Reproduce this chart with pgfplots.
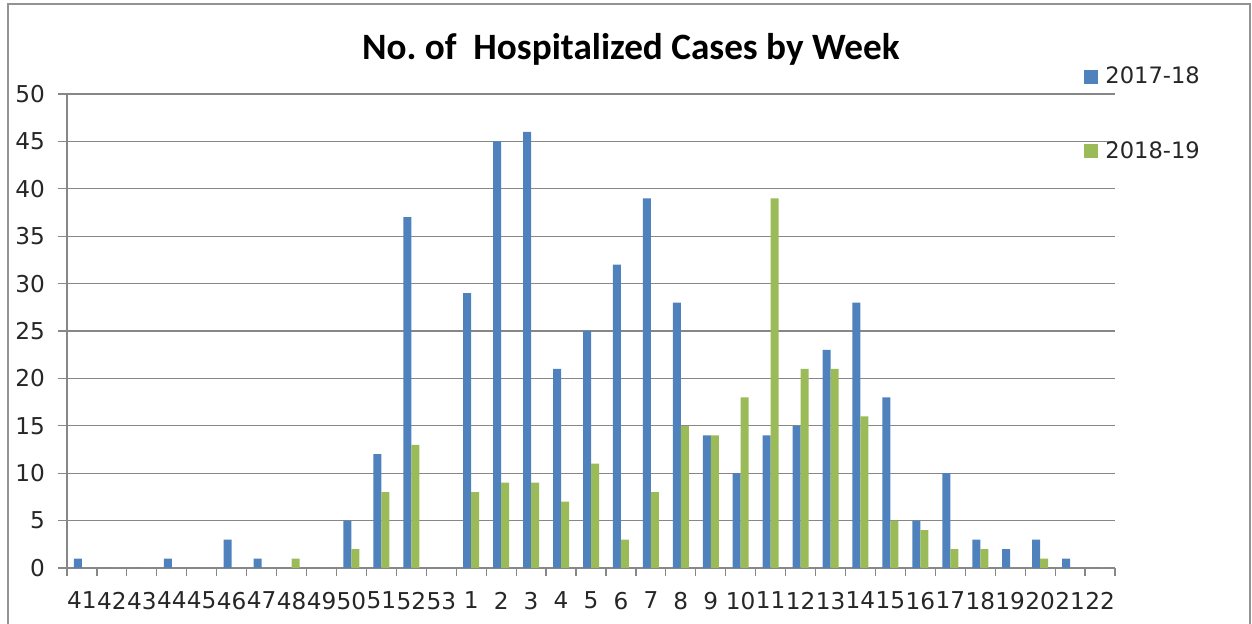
\documentclass[border=0pt]{standalone}
\usepackage{fontspec}
\setmainfont{DejaVu Sans}
\newfontfamily\titlefont{Carlito}
\usepackage{pgfplots}
\pgfplotsset{compat=1.18}
\definecolor{sblue}{HTML}{4F81BD}
\definecolor{sgreen}{HTML}{9BBB59}
\definecolor{gridc}{HTML}{878787}
\begin{document}
\begin{tikzpicture}
\useasboundingbox (0,0) rectangle (626pt,312pt);
\draw[gridc!90, line width=1pt] (4pt,-2pt) -- (4pt,310pt) -- (625pt,310pt) -- (625pt,-2pt);
\begin{axis}[
  at={(33.5pt,28pt)}, anchor=south west,
  scale only axis, width=524pt, height=237pt,
  ybar=0pt, bar width=4pt,
  xmin=-0.5, xmax=34.5, ymin=0, ymax=50,
  axis lines=left,
  axis line style={gridc, line width=0.6pt, -},
  ytick={0,5,...,50},
  ymajorgrids, grid style={gridc, line width=0.6pt},
  xtick={0,...,34},
  xticklabels={41,42,43,44,45,46,47,48,49,50,51,52,53,1,2,3,4,5,6,7,8,9,10,11,12,13,14,15,16,17,18,19,20,21,22},
  minor xtick={-0.5,0.5,...,34.5},
  tick align=outside,
  major tick length=4.5pt, minor tick length=4pt,
  major x tick style={draw=none},
  minor x tick style={gridc, line width=0.6pt},
  ytick style={gridc, line width=0.6pt},
  tick label style={font=\fontsize{11.6}{13}\selectfont, text=black!85},
  /pgf/number format/assume math mode=true,
  xticklabel style={yshift=-4pt},
  yticklabel style={xshift=-3pt},
  title={\titlefont\bfseries No.\ of\ \ Hospitalized Cases by Week},
  title style={at={(0.538,1.0485)}, anchor=base, font=\fontsize{18.6}{21}\selectfont, inner sep=0pt},
  legend style={at={(0.9704,0.958)}, anchor=west, draw=none, fill=none, inner sep=0pt,
    nodes={inner sep=0pt, font=\fontsize{11.3}{13}\selectfont, text=black!85},
    row sep=27.5pt, column sep=3.5pt},
  legend cell align=left,
  legend image code/.code={\path[#1,draw=none] (0pt,-3.5pt) rectangle (7pt,3.5pt);},
]
\addplot[fill=sblue, draw=none] coordinates {
(0,1) (1,0) (2,0) (3,1) (4,0) (5,3) (6,1) (7,0) (8,0) (9,5) (10,12) (11,37) (12,0)
(13,29) (14,45) (15,46) (16,21) (17,25) (18,32) (19,39) (20,28) (21,14) (22,10)
(23,14) (24,15) (25,23) (26,28) (27,18) (28,5) (29,10) (30,3) (31,2) (32,3) (33,1) (34,0)};
\addplot[fill=sgreen, draw=none] coordinates {
(0,0) (1,0) (2,0) (3,0) (4,0) (5,0) (6,0) (7,1) (8,0) (9,2) (10,8) (11,13) (12,0)
(13,8) (14,9) (15,9) (16,7) (17,11) (18,3) (19,8) (20,15) (21,14) (22,18)
(23,39) (24,21) (25,21) (26,16) (27,5) (28,4) (29,2) (30,2) (31,0) (32,1) (33,0) (34,0)};
\legend{2017-18,2018-19}
\end{axis}
\end{tikzpicture}
\end{document}
